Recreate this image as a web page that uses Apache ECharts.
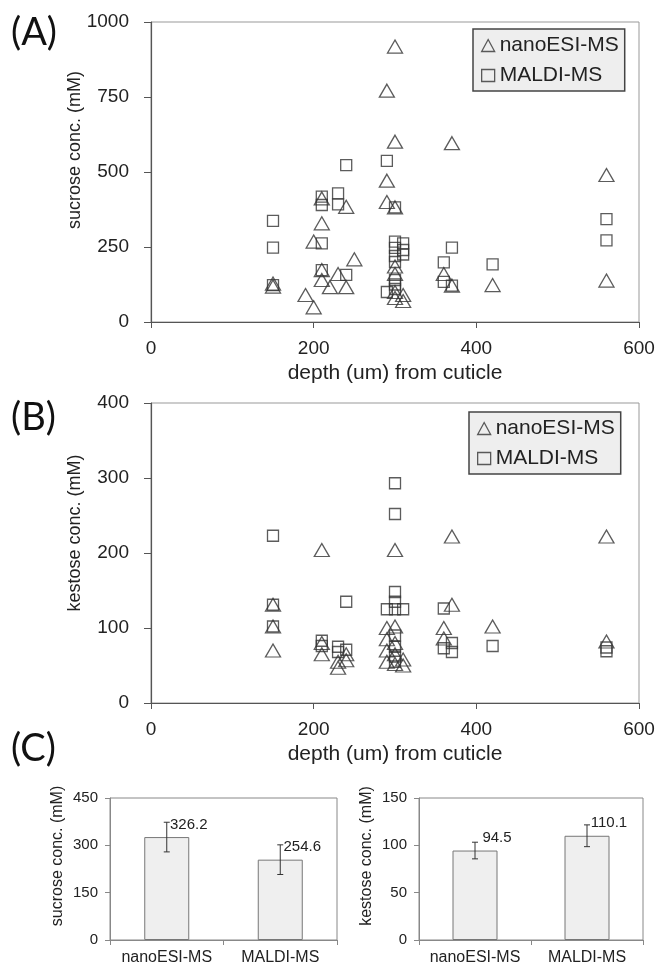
<!DOCTYPE html>
<html>
<head>
<meta charset="utf-8">
<script src="https://cdn.jsdelivr.net/npm/echarts@6/dist/echarts.min.js"></script>
<style>
html, body { margin: 0; padding: 0; background: #fff; }
#main { width: 672px; height: 967px; }
</style>
</head>
<body>
<div id="main"></div>
<script>
// (A) sucrose conc. (mM) vs depth (um)
var sucroseNano = [
  [150, 128], [150, 118], [190, 90], [200, 49], [200, 268], [210, 412], [210, 329],
  [210, 173], [210, 140], [220, 116], [230, 160], [240, 384], [240, 116], [250, 209],
  [290, 771], [290, 471], [290, 400], [300, 918], [300, 601], [300, 382], [300, 185],
  [300, 160], [300, 100], [300, 80], [310, 90], [310, 70], [360, 160], [370, 596],
  [370, 121], [420, 123], [560, 490], [560, 138]
];
var sucroseMaldi = [
  [150, 337], [150, 248], [150, 123], [210, 418], [210, 390], [210, 262], [210, 173],
  [230, 429], [230, 392], [240, 523], [240, 157], [290, 537], [300, 382], [300, 268],
  [300, 247], [300, 220], [300, 200], [300, 140], [300, 125], [300, 110], [290, 100],
  [310, 262], [310, 240], [310, 225], [360, 199], [360, 134], [370, 248], [370, 121],
  [420, 192], [560, 343], [560, 272]
];
// (B) kestose conc. (mM) vs depth (um)
var kestoseNano = [
  [150, 131], [150, 102], [150, 70], [210, 204], [210, 80], [210, 65], [230, 55],
  [230, 47], [240, 65], [240, 57], [300, 204], [290, 100], [300, 102], [290, 85],
  [300, 80], [290, 70], [300, 65], [290, 55], [300, 52], [310, 50], [310, 58],
  [360, 100], [360, 86], [370, 222], [370, 131], [420, 102], [560, 222], [560, 82]
];
var kestoseMaldi = [
  [150, 223], [150, 131], [150, 102], [210, 83], [210, 76], [230, 75], [230, 68],
  [240, 135], [240, 71], [300, 293], [300, 252], [300, 148], [300, 135], [290, 125],
  [300, 125], [310, 125], [300, 90], [300, 75], [300, 62], [300, 55], [360, 126],
  [360, 73], [370, 80], [370, 68], [420, 76], [560, 74], [560, 69]
];
// (C) means with error bars
var methods = ['nanoESI-MS', 'MALDI-MS'];
var sucroseMean = [326.2, 254.6];
var sucroseErr = [47, 47];
var kestoseMean = [94.5, 110.1];
var kestoseErr = [8.8, 11.5];

var FONT = 'Arial, "Liberation Sans", sans-serif';
var INK = '#222';

let chart = echarts.init(document.getElementById('main'));

function errData(mean, err) {
  return mean.map(function (m, i) { return [i, m - err[i], m + err[i]]; });
}

function renderErr(params, api) {
  var hi = api.coord([api.value(0), api.value(2)]);
  var lo = api.coord([api.value(0), api.value(1)]);
  var st = { stroke: '#333', lineWidth: 1 };
  return {
    type: 'group',
    children: [
      { type: 'line', shape: { x1: hi[0], y1: hi[1], x2: lo[0], y2: lo[1] }, style: st },
      { type: 'line', shape: { x1: hi[0] - 3, y1: hi[1], x2: hi[0] + 3, y2: hi[1] }, style: st },
      { type: 'line', shape: { x1: lo[0] - 3, y1: lo[1], x2: lo[0] + 3, y2: lo[1] }, style: st }
    ]
  };
}

var hollow = { color: 'rgba(0,0,0,0)', borderColor: '#333', borderWidth: 1.3 };

function plain(v) { return String(v); }

function scatterAxisX(i) {
  return {
    gridIndex: i, type: 'value', min: 0, max: 600, interval: 200,
    name: 'depth (um) from cuticle', nameLocation: 'middle', nameGap: 41,
    nameTextStyle: { fontFamily: FONT, fontSize: 21, color: INK },
    axisLine: { show: true, lineStyle: { color: '#555', width: 1.2 } },
    axisTick: { show: true, length: 6, lineStyle: { color: '#555' } },
    axisLabel: { fontFamily: FONT, fontSize: 19, color: INK, margin: 17, formatter: plain },
    splitLine: { show: false }
  };
}
function scatterAxisY(i, max, interval) {
  return {
    gridIndex: i, type: 'value', min: 0, max: max, interval: interval,
    axisLine: { show: true, lineStyle: { color: '#555', width: 1.2 } },
    axisTick: { show: true, length: 7, lineStyle: { color: '#555' } },
    axisLabel: { fontFamily: FONT, fontSize: 19, color: INK, margin: 22, formatter: plain },
    splitLine: { show: false }
  };
}
function barAxisX(i) {
  return {
    gridIndex: i, type: 'category', data: methods,
    axisLine: { show: true, lineStyle: { color: '#888' } },
    axisTick: { show: true, length: 5, lineStyle: { color: '#888' } },
    axisLabel: { fontFamily: FONT, fontSize: 16, color: INK, margin: 10, interval: 0 }
  };
}
function barAxisY(i, max, interval, name) {
  return {
    gridIndex: i, type: 'value', min: 0, max: max, interval: interval,
    name: name, nameLocation: 'middle', nameGap: 44, nameRotate: 90,
    nameTextStyle: { fontFamily: FONT, fontSize: 16, color: INK, padding: [0, 0, 0, 26] },
    axisLine: { show: true, lineStyle: { color: '#888' } },
    axisTick: { show: true, length: 5, lineStyle: { color: '#888' } },
    axisLabel: { fontFamily: FONT, fontSize: 15, color: INK, margin: 12, formatter: plain },
    splitLine: { show: false }
  };
}
function legendAt(left, top) {
  return {
    orient: 'vertical', left: left, top: top,
    backgroundColor: '#eeeeee', borderColor: '#444', borderWidth: 1.5,
    padding: [6, 6, 5, 8], itemGap: 9, itemWidth: 13, itemHeight: 12,
    textStyle: { fontFamily: FONT, fontSize: 21, color: INK },
    data: [
      { name: 'nanoESI-MS', icon: 'triangle', itemStyle: hollow },
      { name: 'MALDI-MS', icon: 'rect', itemStyle: hollow }
    ]
  };
}
function barLabel() {
  return {
    show: true, position: 'top', distance: 5, offset: [22, 0],
    fontFamily: FONT, fontSize: 15, color: INK,
    formatter: function (p) { return p.value.toFixed(1); }
  };
}
function yTitle(text, x, y) {
  return {
    type: 'text', x: x, y: y, rotation: Math.PI / 2,
    style: { text: text, font: '18px ' + FONT, fill: INK, align: 'center', verticalAlign: 'middle' }
  };
}

var tagFont = '38px Lato, "Open Sans", sans-serif';

let option = {
  animation: false,
  backgroundColor: '#fff',
  graphic: [
    { type: 'text', left: 11, top: 14, style: { text: '(A)', font: tagFont, fill: '#111' } },
    { type: 'text', left: 11, top: 399, style: { text: '(B)', font: tagFont, fill: '#111' } },
    { type: 'text', left: 11, top: 730, style: { text: '(C)', font: tagFont, fill: '#111' } },
    yTitle('sucrose conc. (mM)', 75, 150),
    yTitle('kestose conc. (mM)', 75, 533)
  ],
  legend: [legendAt(473, 29), legendAt(469, 412)],
  grid: [
    { left: 151, top: 22, width: 488, height: 300, show: true, borderColor: '#999', outerBoundsMode: 'none' },
    { left: 151, top: 403, width: 488, height: 300, show: true, borderColor: '#999', outerBoundsMode: 'none' },
    { left: 110, top: 798, width: 227, height: 142, show: true, borderColor: '#888', outerBoundsMode: 'none' },
    { left: 419, top: 798, width: 224, height: 142, show: true, borderColor: '#888', outerBoundsMode: 'none' }
  ],
  xAxis: [scatterAxisX(0), scatterAxisX(1), barAxisX(2), barAxisX(3)],
  yAxis: [
    scatterAxisY(0, 1000, 250),
    scatterAxisY(1, 400, 100),
    barAxisY(2, 450, 150, 'sucrose conc. (mM)'),
    barAxisY(3, 150, 50, 'kestose conc. (mM)')
  ],
  series: [
    { name: 'nanoESI-MS', type: 'scatter', xAxisIndex: 0, yAxisIndex: 0, data: sucroseNano,
      symbol: 'triangle', symbolSize: [15, 13], itemStyle: hollow },
    { name: 'MALDI-MS', type: 'scatter', xAxisIndex: 0, yAxisIndex: 0, data: sucroseMaldi,
      symbol: 'rect', symbolSize: 11, itemStyle: hollow },
    { name: 'nanoESI-MS', type: 'scatter', xAxisIndex: 1, yAxisIndex: 1, data: kestoseNano,
      symbol: 'triangle', symbolSize: [15, 13], itemStyle: hollow },
    { name: 'MALDI-MS', type: 'scatter', xAxisIndex: 1, yAxisIndex: 1, data: kestoseMaldi,
      symbol: 'rect', symbolSize: 11, itemStyle: hollow },
    { name: 'sucrose mean', type: 'bar', xAxisIndex: 2, yAxisIndex: 2, data: sucroseMean,
      barWidth: 45, itemStyle: { color: '#efefef', borderColor: '#777', borderWidth: 1 },
      label: barLabel() },
    { name: 'sucrose err', type: 'custom', xAxisIndex: 2, yAxisIndex: 2,
      data: errData(sucroseMean, sucroseErr), renderItem: renderErr, z: 5 },
    { name: 'kestose mean', type: 'bar', xAxisIndex: 3, yAxisIndex: 3, data: kestoseMean,
      barWidth: 45, itemStyle: { color: '#efefef', borderColor: '#777', borderWidth: 1 },
      label: barLabel() },
    { name: 'kestose err', type: 'custom', xAxisIndex: 3, yAxisIndex: 3,
      data: errData(kestoseMean, kestoseErr), renderItem: renderErr, z: 5 }
  ]
};
chart.setOption(option);
window.onresize = function () { chart.resize(); };
</script>
</body>
</html>
